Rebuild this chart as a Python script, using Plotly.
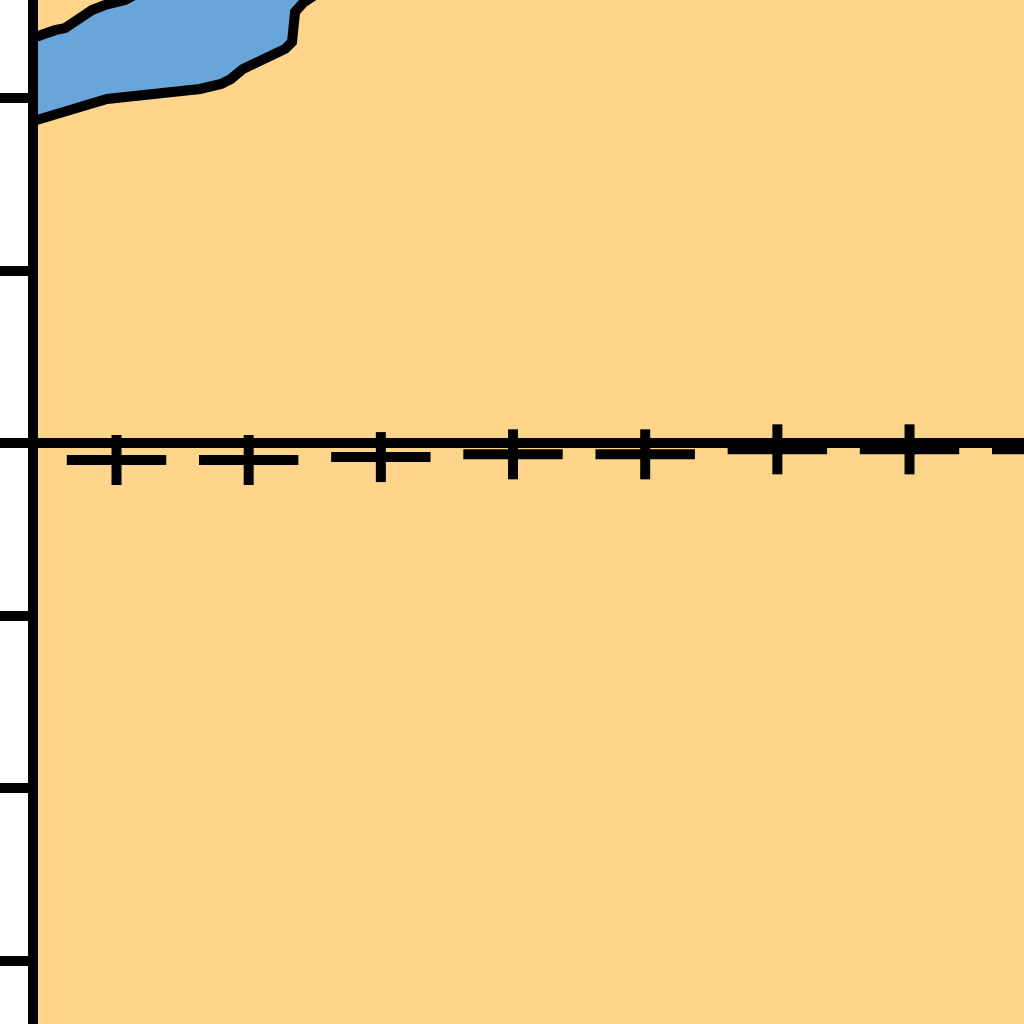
import plotly.graph_objects as go

# point estimates with their error bars (sit just under zero)
pos = [1, 2, 3, 4, 5, 6, 7, 8]
est = [-0.097, -0.097, -0.080, -0.064, -0.064, -0.035, -0.035, -0.035]
err = [0.145, 0.145, 0.145, 0.145, 0.145, 0.145, 0.145, 0.145]

# blue band (upper edge left->right, lower edge right->left)
upper_x = [0.270, 0.421, 0.535, 0.610, 0.686, 0.739, 0.815, 0.913, 1.064, 1.178, 1.329]
upper_y = [2.325, 2.372, 2.396, 2.408, 2.444, 2.473, 2.513, 2.542, 2.571, 2.618, 2.687]
lower_x = [0.270, 0.436, 0.535, 0.663, 0.800, 0.928, 1.140, 1.405, 1.632, 1.791, 1.866,
           1.957, 2.048, 2.124, 2.199, 2.275, 2.328, 2.336, 2.351, 2.411, 2.487, 2.615]
lower_y = [1.846, 1.881, 1.910, 1.939, 1.968, 1.997, 2.026, 2.038, 2.055, 2.084, 2.113,
           2.171, 2.200, 2.229, 2.258, 2.287, 2.328, 2.426, 2.502, 2.554, 2.589, 2.658]

y_ticks = [-3, -2, -1, 0, 1, 2]

orange = "#FED58B"
blue = "#69A5DB"

fig = go.Figure()

fig.add_trace(go.Scatter(
    x=upper_x + lower_x[::-1] + upper_x[:1],
    y=upper_y + lower_y[::-1] + upper_y[:1],
    mode="lines", fill="toself", fillcolor=blue,
    line=dict(color="black", width=10), showlegend=False, hoverinfo="skip"))

# line-ew length is 1.4 * size -> ~99px segments
fig.add_trace(go.Scatter(
    x=pos, y=est, mode="markers",
    marker=dict(symbol="line-ew", size=71, color="black",
                line=dict(color="black", width=10)),
    error_y=dict(type="data", array=err, visible=True, color="black",
                 thickness=10, width=0),
    showlegend=False))

fig.update_layout(
    width=1024, height=1024,
    margin=dict(l=38, r=0, t=0, b=0, pad=0),
    paper_bgcolor="white", plot_bgcolor=orange,
    xaxis=dict(range=[0.406, 7.866], visible=False),
    yaxis=dict(range=[-3.368, 2.571], tickvals=y_ticks, showticklabels=False,
               showgrid=False, showline=True, linewidth=10, linecolor="black",
               ticks="outside", ticklen=28, tickwidth=10, tickcolor="black",
               zeroline=True, zerolinewidth=10, zerolinecolor="black"),
)

fig.write_html("out.html", config={"displayModeBar": False},
               post_script="document.body.style.margin='0px';")
